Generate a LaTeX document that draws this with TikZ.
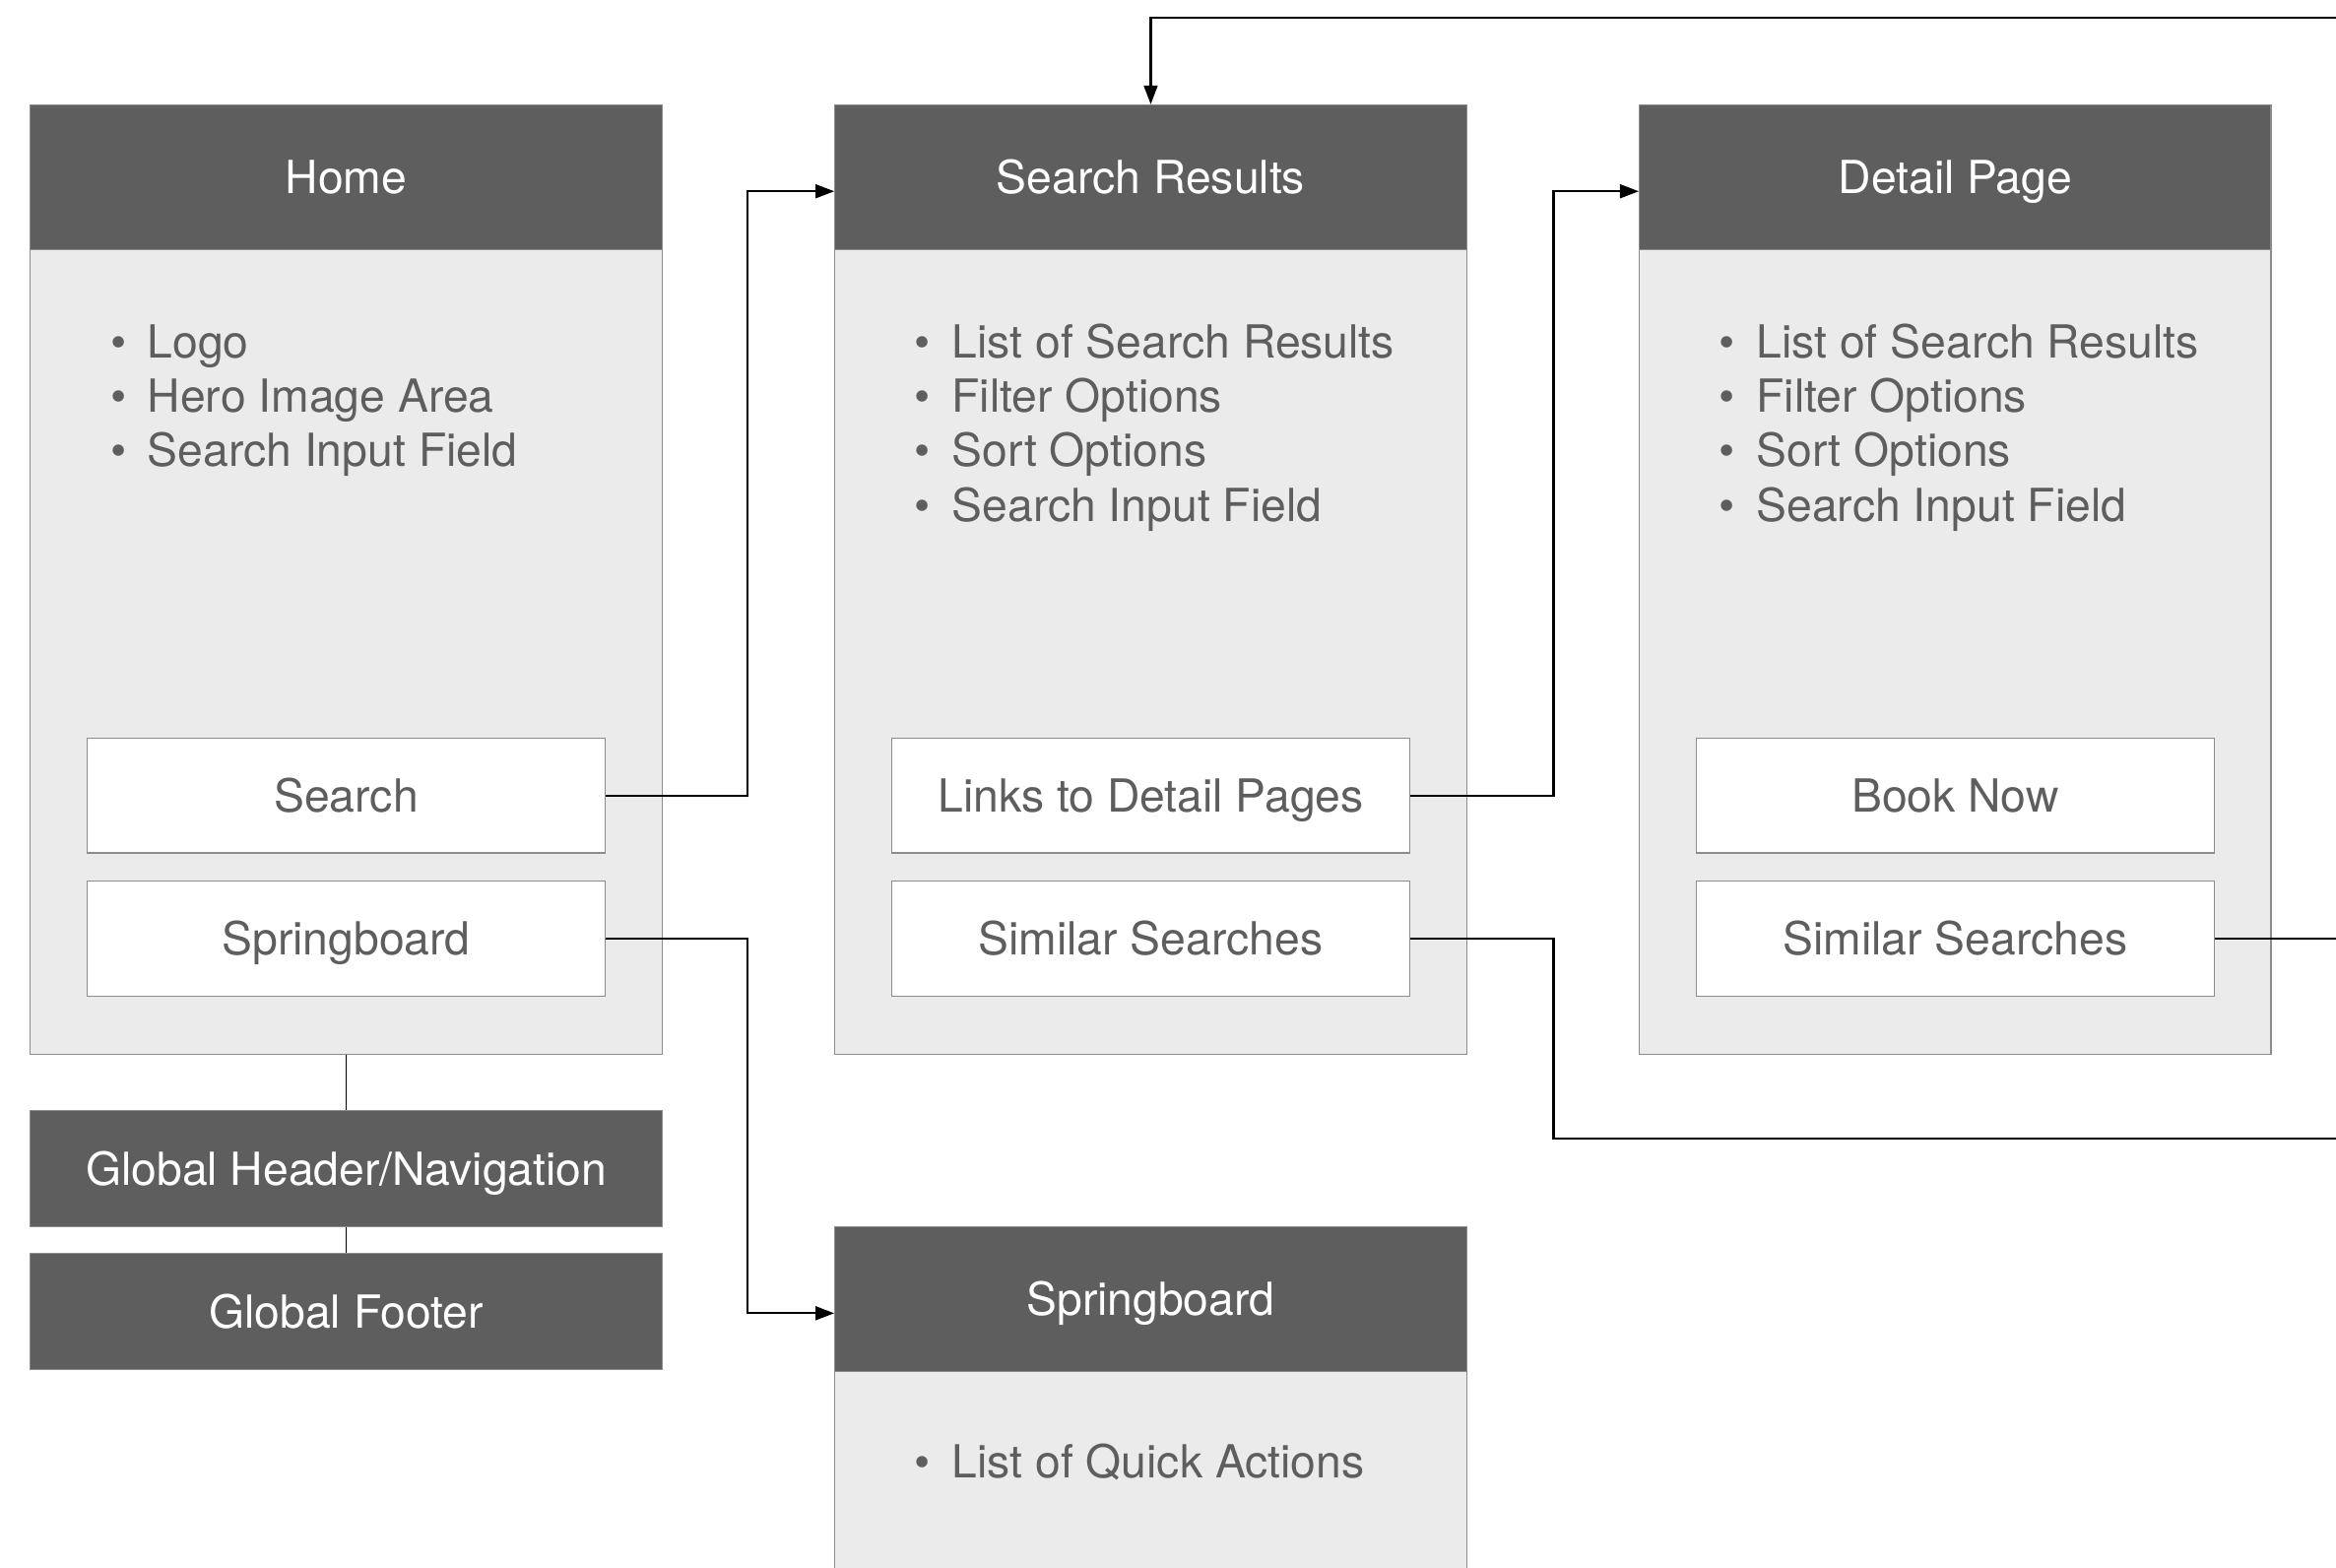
\documentclass[tikz,border=0pt]{standalone}
\usepackage{fontspec}
\setmainfont{TeX Gyre Heros}
\usepackage{tikz}
\usetikzlibrary{arrows.meta}
\definecolor{headgray}{HTML}{5E5E5E}
\definecolor{bodygray}{HTML}{EBEBEB}
\definecolor{edgegray}{HTML}{8C8C8C}
\definecolor{textgray}{HTML}{5E5E5E}
\newcommand\wffont{\fontsize{15.3}{18}\selectfont}
\newcommand\wfbullet{\llap{\textbullet\hspace{7.1pt}}}
\tikzset{
  pagehead/.style = {draw=edgegray, fill=headgray, text=white, font=\wffont,
                     anchor=north west, minimum width=212pt, minimum height=48.5pt,
                     text height=11pt, text depth=0pt, inner sep=0pt},
  pagebody/.style = {draw=edgegray, fill=bodygray, anchor=north west,
                     minimum width=212pt, inner sep=0pt},
  pagebtn/.style  = {draw=edgegray, fill=white, text=textgray, font=\wffont,
                     anchor=north west, minimum width=174pt, minimum height=38.5pt,
                     text height=11pt, text depth=0pt, inner sep=0pt},
  globbar/.style  = {pagehead, minimum height=39pt},
  listitem/.style = {anchor=base west, text=textgray, font=\wffont, inner sep=0pt},
  flowline/.style = {black, line width=0.7pt},
  flowarr/.style  = {flowline, -{Triangle[length=6.3pt,width=4.6pt]}}
}

\begin{document}
\begin{tikzpicture}[x=0.5pt,y=-0.5pt]
  \clip (0,0) rectangle (1568,1052);
  % home
  \node[pagebody, minimum height=270pt] (homebody) at (20,167) {};
  \node[pagehead] (homehead) at (20,70) {Home};
  \foreach \txt [count=\i from 0] in {Logo, Hero Image Area, Search Input Field}
    \node[listitem] (home-\i) at (98.6,{240+36.6*\i}) {\wfbullet\txt};
  \node[pagebtn] (homesearch) at (58,495) {Search};
  \node[pagebtn] (homespring) at (58,591) {Springboard};
  \node[globbar] (globhead) at (20,745) {Global Header/Navigation};
  \node[globbar] (globfoot) at (20,841) {Global Footer};
  % search results
  \node[pagebody, minimum height=270pt] (srbody) at (560,167) {};
  \node[pagehead] (srhead) at (560,70) {Search Results};
  \foreach \txt [count=\i from 0] in {List of Search Results, Filter Options,
      Sort Options, Search Input Field}
    \node[listitem] (sr-\i) at (638.6,{240+36.6*\i}) {\wfbullet\txt};
  \node[pagebtn] (srlinks) at (598,495) {Links to Detail Pages};
  \node[pagebtn] (srsim) at (598,591) {Similar Searches};
  % detail page
  \node[pagebody, minimum height=270pt] (dpbody) at (1100,167) {};
  \node[pagehead] (dphead) at (1100,70) {Detail Page};
  \foreach \txt [count=\i from 0] in {List of Search Results, Filter Options,
      Sort Options, Search Input Field}
    \node[listitem] (dp-\i) at (1178.6,{240+36.6*\i}) {\wfbullet\txt};
  \node[pagebtn] (dpbook) at (1138,495) {Book Now};
  \node[pagebtn] (dpsim) at (1138,591) {Similar Searches};
  % springboard
  \node[pagebody, minimum height=100pt] (sbbody) at (560,919) {};
  \node[pagehead] (sbhead) at (560,823) {Springboard};
  \node[listitem] (sb-0) at (638.6,992) {\wfbullet List of Quick Actions};
  % connectors
  \coordinate (offtop) at (1600,12);
  \coordinate (offlow) at (1600,764);
  \draw[flowline, line width=0.5pt] (homebody.south) -- (globhead.north);
  \draw[flowline, line width=0.5pt] (globhead.south) -- (globfoot.north);
  \draw[flowarr] (homesearch.east) -- ++(95,0) |- ([yshift=-4.75pt]srhead.west);
  \draw[flowarr] (homespring.east) -- ++(95,0) |- ([yshift=-4.75pt]sbhead.west);
  \draw[flowarr] (srlinks.east) -- ++(96,0) |- ([yshift=-4.75pt]dphead.west);
  \draw[flowline] (srsim.east) -- ++(96,0) |- (offlow);
  \draw[flowline] (dpsim.east) -- (dpsim.east -| offtop);
  \draw[flowarr] (offtop) -| (srhead.north);
\end{tikzpicture}
\end{document}
